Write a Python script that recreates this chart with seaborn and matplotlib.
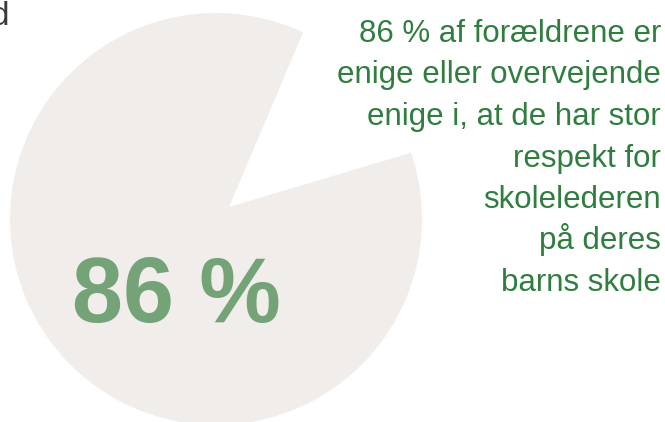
import matplotlib
matplotlib.use("Agg")
import matplotlib.pyplot as plt
import seaborn as sns

# ---- data ----
labels = ["Enige / overvejende enige", "Øvrige"]
values = [86, 14]
big_label = "86 %"
text_lines = [
    "86 % af forældrene er",
    "enige eller overvejende",
    "enige i, at de har stor",
    "respekt for",
    "skolelederen",
    "på deres",
    "barns skole",
]
corner_text = "d"

sns.set_theme(style="white")
plt.rcParams["font.family"] = ["Liberation Sans", "DejaVu Sans"]

W, H = 665, 422
fig = plt.figure(figsize=(W / 100, H / 100), dpi=100)
ax = fig.add_axes([0, 0, 1, 1])

pie_gray = "#f0edea"
# full disk (pie body)
ax.pie(values, colors=[pie_gray, pie_gray], startangle=67.0,
       center=(216, H - 219), radius=206,
       wedgeprops=dict(linewidth=0, edgecolor="none"))
# the 14 % slice cut out of the disk
ax.pie(values, colors=["none", "white"], startangle=67.0,
       center=(229, H - 207), radius=320,
       wedgeprops=dict(linewidth=0, edgecolor="none"))

ax.set_xlim(0, W)
ax.set_ylim(0, H)
ax.set_aspect("auto")
ax.axis("off")

# big number
ax.text(72, H - 322, big_label, ha="left", va="baseline",
        fontsize=66, fontweight="bold", color="#73a377", zorder=5)

# right-hand statement
for i, line in enumerate(text_lines):
    ax.text(661, H - (42 + 41.5 * i), line, ha="right", va="baseline",
            fontsize=22.5, color="#2f7d3f", zorder=5)

# clipped text at top-left
ax.text(9.5, H - 25, corner_text, ha="right", va="baseline",
        fontsize=24, color="#3a3a3a", zorder=5)

fig.savefig("out.png", dpi=100, facecolor="white")
